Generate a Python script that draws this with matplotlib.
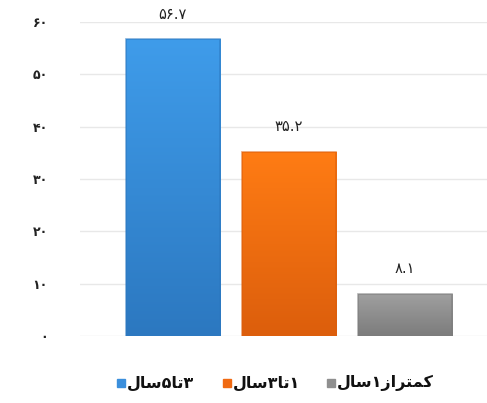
import numpy as np
import matplotlib
matplotlib.use('Agg')
import matplotlib.pyplot as plt
from matplotlib.colors import LinearSegmentedColormap

# Persian digits and pre-shaped (visual order) labels
fa_digits = '۰۱۲۳۴۵۶۷۸۹'

def fa_num(s):
  return ''.join(fa_digits[int(c)] if c.isdigit() else c for c in s)

# legend labels: 3 to 5 years, 1 to 3 years, less than 1 year (presentation forms, visual order)
categories = [
  '\uFEDD\uFE8E\uFEB3' + '۵' + '\uFE8E\uFE97' + '۳',
  '\uFEDD\uFE8E\uFEB3' + '۳' + '\uFE8E\uFE97' + '۱',
  '\uFEDD\uFE8E\uFEB3' + '۱' + '\uFEAF\uFE8D\uFEAE\uFE98\uFEE4\uFEDB',
]
values = [56.7, 35.2, 8.1]
value_labels = ['56.7', '35.2', '8.1']
y_ticks = [0, 10, 20, 30, 40, 50, 60]

top_colors = ['#3f9cea', '#ff7c14', '#a0a0a0']
bottom_colors = ['#2c78c0', '#dc5e0c', '#7c7c7c']
legend_colors = ['#3b8fdc', '#f06a12', '#8f8f8f']

text_color = '#222222'
font = 'DejaVu Sans'

fig = plt.figure(figsize=(4.87, 4.03), dpi=100)
ax = fig.add_axes([0.164, 0.166, 0.836, 0.779])

x = np.arange(len(values))
bars = ax.bar(x, values, width=0.81, color='none', zorder=3)

grad = np.linspace(0, 1, 256).reshape(-1, 1)
for b, c_top, c_bot in zip(bars, top_colors, bottom_colors):
  cmap = LinearSegmentedColormap.from_list('g', [c_bot, c_top])
  x0, y0 = b.get_x(), b.get_y()
  w, h = b.get_width(), b.get_height()
  im = ax.imshow(grad, cmap=cmap, origin='lower', aspect='auto',
                 extent=[x0, x0 + w, y0, y0 + h], zorder=3)
  im.set_clip_path(b)
  # subtle darker edges
  ax.bar(b.get_x() + w/2, h, width=w, color='none', edgecolor=c_bot,
         linewidth=1.2, zorder=4, alpha=0.6)

for xi, v, lab in zip(x, values, value_labels):
  ax.text(xi, v + 3.4, fa_num(lab), ha='center', va='bottom', fontsize=10.5,
          color=text_color, family=font)

ax.set_xlim(-0.80, 2.707)
ax.set_ylim(0, 60)
ax.set_yticks(y_ticks)
ax.set_yticklabels([fa_num(str(t)) for t in y_ticks], family=font,
                   fontweight='bold', fontsize=9, color=text_color)
ax.tick_params(axis='y', length=0, pad=23)
ax.set_xticks([])
for s in ax.spines.values():
  s.set_visible(False)
ax.yaxis.grid(True, color='#e8e8e8', linewidth=1.0, zorder=0)
ax.set_axisbelow(True)

# legend along the bottom, square markers left of each label
leg_x = [0.240, 0.458, 0.671]
for lx, lab, col in zip(leg_x, categories, legend_colors):
  fig.patches.append(plt.Rectangle((lx, 0.040), 0.016, 0.019, color=col,
                                   transform=fig.transFigure, figure=fig))
  fig.text(lx + 0.020, 0.049, lab, ha='left', va='center', fontsize=11.5,
           fontweight='bold', color='#111111', family=font)

fig.savefig('out.png', dpi=100)
